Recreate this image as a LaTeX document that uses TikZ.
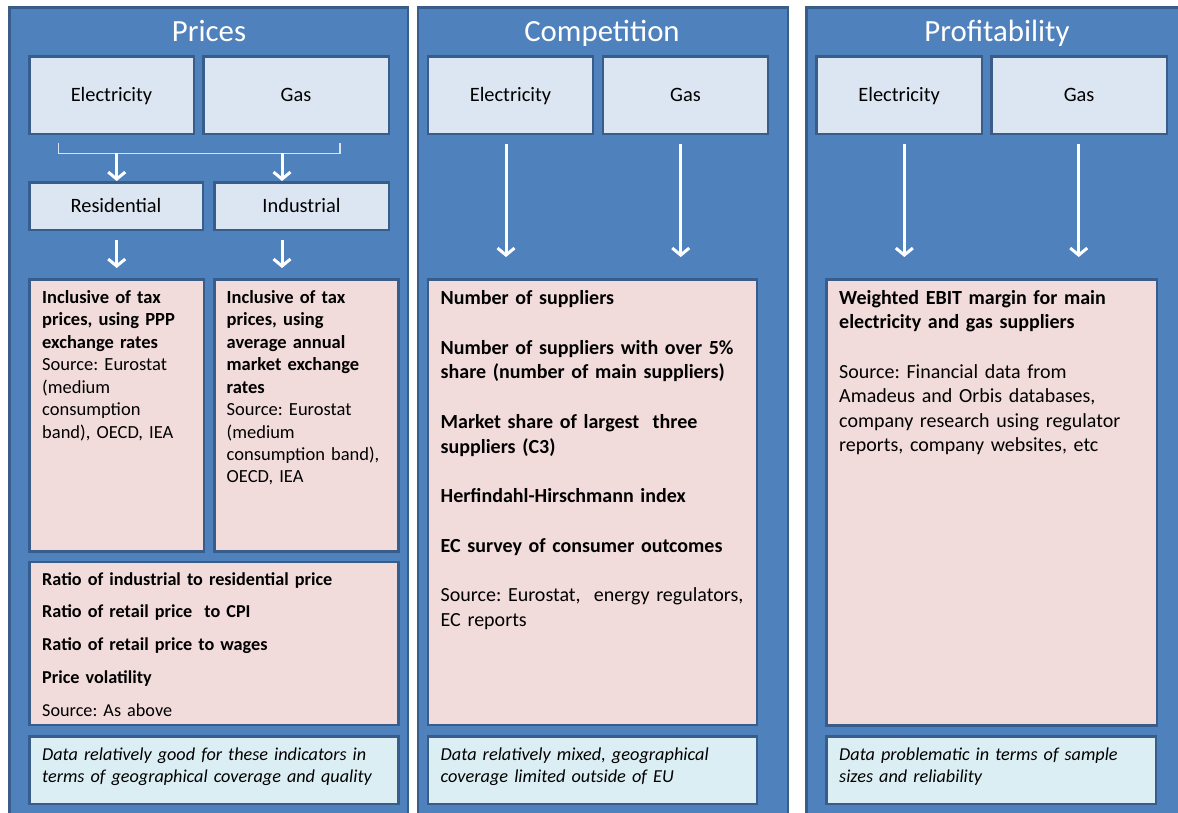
\documentclass[tikz,border=0pt]{standalone}
\usepackage{fontspec}
\setmainfont{Carlito}
\frenchspacing
\usetikzlibrary{arrows.meta,fit}
\definecolor{panelblue}{RGB}{79,129,189}
\definecolor{edgeblue}{RGB}{56,93,138}
\definecolor{topfill}{RGB}{220,230,242}
\definecolor{pinkfill}{RGB}{242,220,219}
\definecolor{notefill}{RGB}{219,238,244}
\definecolor{bracketcol}{RGB}{214,226,240}
\begin{document}
\begin{tikzpicture}[x=1pt,y=-1pt,
 panel/.style={draw=edgeblue, fill=panelblue, line width=2.5pt, inner sep=0pt},
 topbox/.style={draw=edgeblue, fill=topfill, line width=2.5pt, inner sep=0pt},
 toplabel/.style={inner sep=0pt, font=\fontsize{20.4}{24}\selectfont,
   text height=13.1pt, text depth=0pt, anchor=center},
 pinkbox/.style={draw=edgeblue, fill=pinkfill, line width=2.5pt, inner sep=0pt},
 notebox/.style={draw=edgeblue, fill=notefill, line width=2.5pt, inner sep=0pt},
 heading/.style={text=white, font=\fontsize{30.8}{36}\selectfont, anchor=base, inner sep=0pt},
 body/.style={anchor=base west, inner sep=0pt, align=left, text width=#1},
 arr/.style={draw=white, line width=3pt, -{Straight Barb[length=7pt,width=17pt]}},
]
\useasboundingbox (0,0) rectangle (1178,812);
\fill[white] (0,0) rectangle (1178,812);

% panels
\node[panel, fit={(9.25,7.25)(407.75,830)}] (p1) {};
\node[panel, fit={(418,7.25)(787.75,830)}] (p2) {};
\node[panel, fit={(806.25,7.25)(1195,830)}] (p3) {};

\node[heading] (h1) at (209,41.7) {Prices};
\node[heading] (h2) at (602,41.7) {Competition};
\node[heading] (h3) at (997,41.7) {Profitability};

% ---------- Prices ----------
\node[topbox, fit={(29.25,56.25)(193.75,133.75)}, label={[toplabel]center:Electricity}] (pe) {};
\node[topbox, fit={(203.25,56.25)(388.75,133.75)}, label={[toplabel]center:Gas}] (pg) {};
\node[topbox, fit={(29.25,182.25)(202.75,229.75)}, label={[toplabel]center:Residential}] (pr) {};
\node[topbox, fit={(214.25,182.25)(388.75,229.75)}, label={[toplabel]center:Industrial}] (pi) {};
\node[pinkbox, fit={(29.25,279.25)(203.75,551.25)}] (pk1) {};
\node[pinkbox, fit={(214.25,279.25)(398.25,551.25)}] (pk2) {};
\node[pinkbox, fit={(29.25,562)(398.25,724.75)}] (pk3) {};
\node[notebox, fit={(29.25,736.25)(398.25,803.75)}] (pn) {};

\coordinate (bl) at (58.3,143.3);
\coordinate (br) at (340,143.3);
\coordinate (b1) at (116.7,153.3);
\coordinate (b2) at (282,153.3);
\draw[bracketcol, line width=1.2pt] (bl) |- (br |- b1) -- (br);
\draw[arr] (b1) -- (pr.north -| b1);
\draw[arr] (b2) -- (pi.north -| b2);
\draw[arr, shorten <=9pt, shorten >=10pt] (pr.south -| b1) -- (pk1.north -| b1);
\draw[arr, shorten <=9pt, shorten >=10pt] (pi.south -| b2) -- (pk2.north -| b2);

\node[body=185pt, font=\fontsize{18.5}{22.45}\selectfont] (t1) at (42,303.3)
 {\textbf{Inclusive of tax}\\\textbf{prices, using PPP}\\\textbf{exchange rates}\\Source: Eurostat\\(medium\\consumption\\band), OECD, IEA};
\node[body=200pt, font=\fontsize{18.5}{22.45}\selectfont] (t2) at (226.5,303.3)
 {\textbf{Inclusive of tax}\\\textbf{prices, using}\\\textbf{average annual}\\\textbf{market exchange}\\\textbf{rates}\\Source: Eurostat\\(medium\\consumption band),\\OECD, IEA};
\node[body=360pt, font=\fontsize{18.2}{32.9}\selectfont] (t3) at (42,585)
 {\textbf{Ratio of industrial to residential price}\\\textbf{Ratio of retail price~ to CPI}\\\textbf{Ratio of retail price to wages}\\\textbf{Price volatility}\\Source: As above};
\node[body=360pt, font=\fontsize{18.2}{22.4}\selectfont\itshape] (t4) at (42,760)
 {Data relatively good for these indicators in\\terms of geographical coverage and quality};

% ---------- Competition ----------
\node[topbox, fit={(428,56.25)(593,133.75)}, label={[toplabel]center:Electricity}] (ce) {};
\node[topbox, fit={(603,56.25)(768,133.75)}, label={[toplabel]center:Gas}] (cg) {};
\node[pinkbox, fit={(428,279.25)(757,724.75)}] (ck) {};
\node[notebox, fit={(428,736.25)(757,803.75)}] (cn) {};
\draw[arr, shorten <=9.25pt, shorten >=21pt] ([xshift=-4.5pt]ce.south) -- ([xshift=-4.5pt]ce.south |- ck.north);
\draw[arr, shorten <=9.25pt, shorten >=21pt] ([xshift=-4.8pt]cg.south) -- ([xshift=-4.8pt]cg.south |- ck.north);

\node[body=330pt, font=\fontsize{20}{24.75}\selectfont] (t5) at (440.5,304.7)
 {\textbf{Number of suppliers}\\[24.75pt]
  \textbf{Number of suppliers with over 5\%}\\\textbf{share (number of main suppliers)}\\[24.75pt]
  \textbf{Market share of largest~ three}\\\textbf{suppliers (C3)}\\[24.75pt]
  \textbf{Herfindahl-Hirschmann index}\\[24.75pt]
  \textbf{EC survey of consumer outcomes}\\[24.75pt]
  Source: Eurostat,~ energy regulators,\\EC reports};
\node[body=330pt, font=\fontsize{18.3}{22.4}\selectfont\itshape] (t6) at (440.5,760)
 {Data relatively mixed, geographical\\coverage limited outside of EU};

% ---------- Profitability ----------
\node[topbox, fit={(816.25,56.25)(982,133.75)}, label={[toplabel]center:Electricity}] (fe) {};
\node[topbox, fit={(991.25,56.25)(1167,133.75)}, label={[toplabel]center:Gas}] (fg) {};
\node[pinkbox, fit={(826.25,279.25)(1156.75,725.5)}] (fk) {};
\node[notebox, fit={(826.25,736.25)(1155.75,803.75)}] (fn) {};
\draw[arr, shorten <=9.25pt, shorten >=21pt] ([xshift=5.2pt]fe.south) -- ([xshift=5.2pt]fe.south |- fk.north);
\draw[arr, shorten <=9.25pt, shorten >=21pt] ([xshift=-0.4pt]fg.south) -- ([xshift=-0.4pt]fg.south |- fk.north);

\node[body=330pt, font=\fontsize{20}{24.6}\selectfont] (t7) at (839,304.3)
 {\textbf{Weighted EBIT margin for main}\\\textbf{electricity and gas suppliers}\\[24.6pt]
  Source: Financial data from\\Amadeus and Orbis databases,\\company research using regulator\\reports, company websites, etc};
\node[body=320pt, font=\fontsize{18.2}{22.4}\selectfont\itshape] (t8) at (839,760)
 {Data problematic in terms of sample\\sizes and reliability};
\end{tikzpicture}
\end{document}
